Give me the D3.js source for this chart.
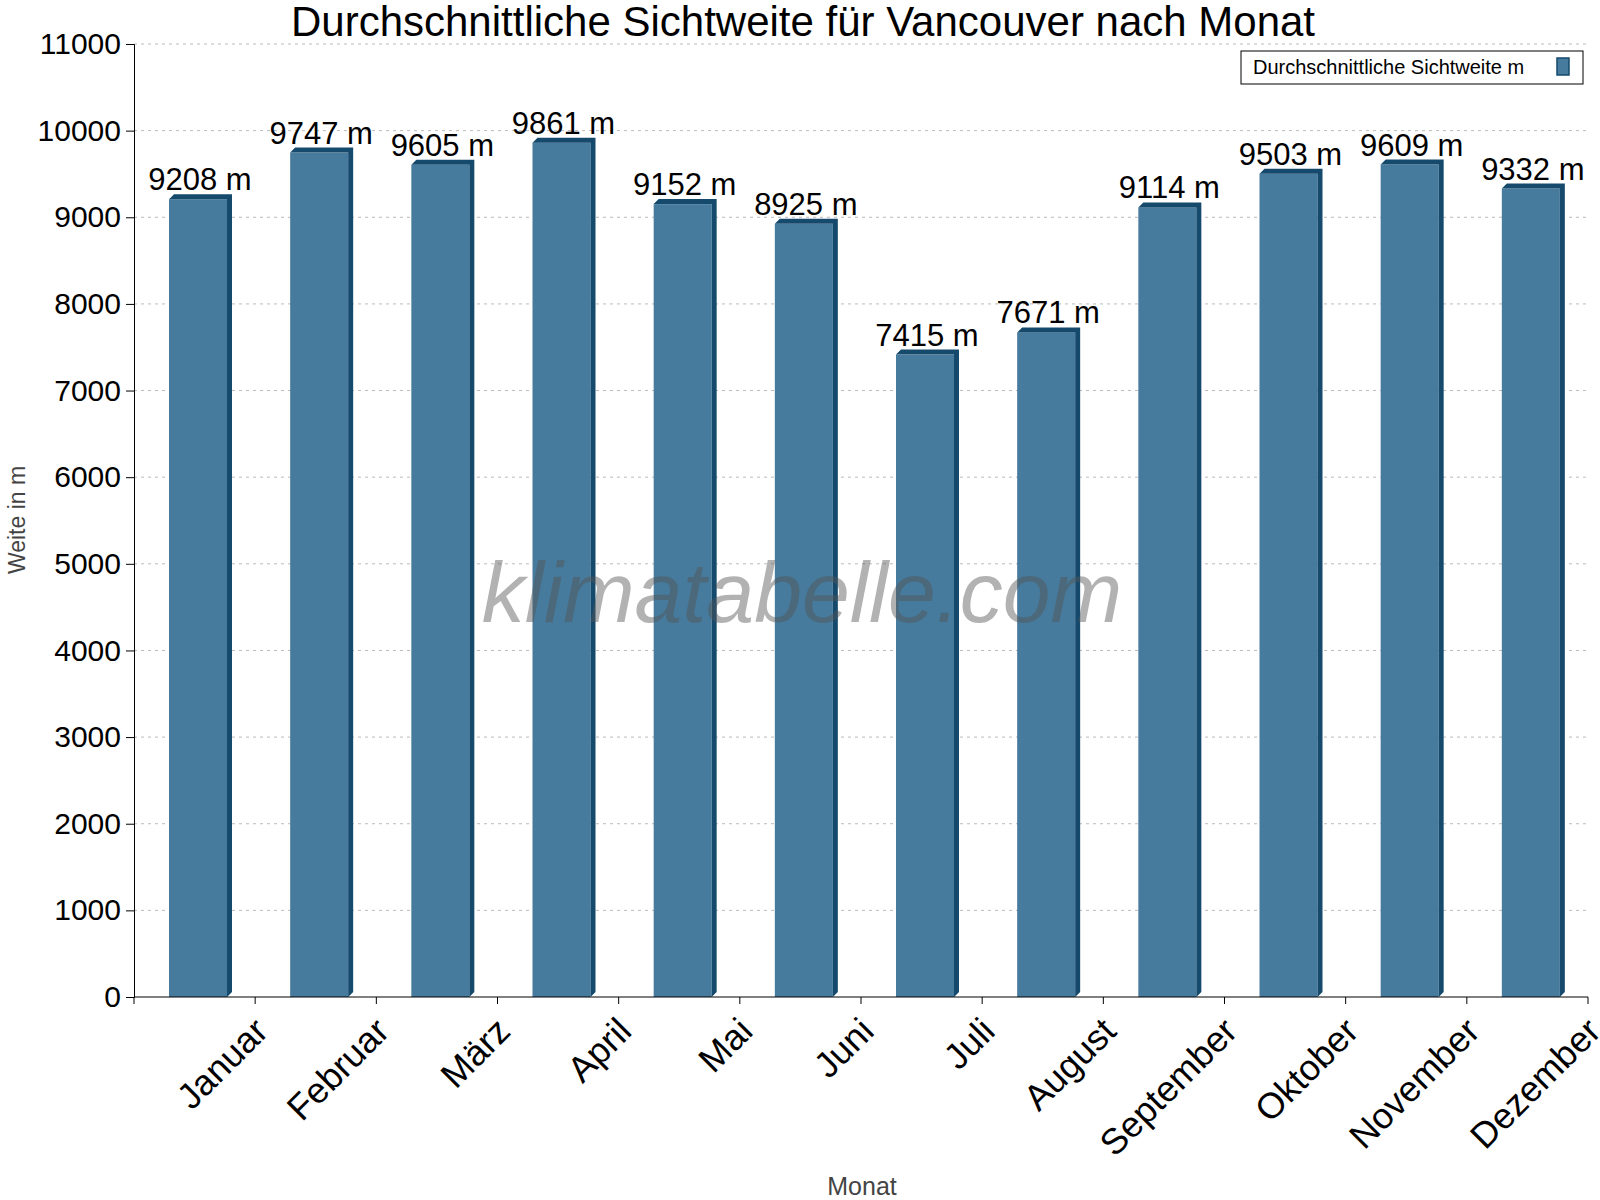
<!DOCTYPE html><html><head><meta charset="utf-8"><script src="https://cdn.jsdelivr.net/npm/d3@7"></script>
<style>body{margin:0;background:#fff}text{font-family:"Liberation Sans",Arial,sans-serif}</style></head><body><svg id="c" width="1600" height="1200"></svg>
<script>
const months=["Januar","Februar","März","April","Mai","Juni","Juli","August","September","Oktober","November","Dezember"];
const values=[9208,9747,9605,9861,9152,8925,7415,7671,9114,9503,9609,9332];
const yTicks=[0,1000,2000,3000,4000,5000,6000,7000,8000,9000,10000,11000];
const svg=d3.select("#c");
const L=134,R=1588,T=44,B=997;
const x=d3.scaleBand().domain(months).range([L,R]);
const y=d3.scaleLinear().domain([0,11000]).range([B,T]);
svg.append("g").selectAll("line").data(yTicks.slice(1)).join("line")
 .attr("x1",L).attr("x2",R).attr("y1",d=>y(d)).attr("y2",d=>y(d))
 .attr("stroke","#bbb").attr("stroke-dasharray","3,4");
const g=svg.append("g");
const fw=58,sw=5;
months.forEach((m,i)=>{
 const x0=x(m)+35, yt=y(values[i]);
 g.append("rect").attr("x",x0).attr("y",yt).attr("width",fw).attr("height",B-yt).attr("fill","#467b9d");
 g.append("path").attr("d",`M${x0},${yt} L${x0+sw},${yt-sw} L${x0+fw+sw},${yt-sw} L${x0+fw+sw},${B-sw} L${x0+fw},${B} L${x0+fw},${yt} Z`).attr("fill","#164a6d");
 g.append("text").attr("x",x0+fw/2+2).attr("y",yt-9).attr("text-anchor","middle").attr("font-size",31).attr("fill","#000").text(values[i]+" m");
});
svg.append("text").attr("x",802).attr("y",622).attr("text-anchor","middle")
 .attr("font-size",86).attr("font-style","italic").attr("fill","#555").attr("fill-opacity",0.45).text("klimatabelle.com");
const ya=svg.append("g").attr("transform",`translate(${L},0)`).call(d3.axisLeft(y).tickValues(yTicks).tickSize(8).tickFormat(d3.format("d")));
ya.selectAll("text").attr("font-size",30).attr("fill","#000").attr("dx",-2).attr("font-family","Liberation Sans, Arial");
ya.select(".domain").attr("stroke","#000");
svg.append("line").attr("x1",L).attr("x2",R).attr("y1",B).attr("y2",B).attr("stroke","#000");
svg.append("g").selectAll("line").data(d3.range(13)).join("line")
 .attr("x1",i=>L+i*x.bandwidth()).attr("x2",i=>L+i*x.bandwidth()).attr("y1",B).attr("y2",B+7).attr("stroke","#000");
svg.append("g").selectAll("text").data(months).join("text")
 .attr("transform",m=>`translate(${x(m)+x.bandwidth()/2+55},${B+16}) rotate(-45)`)
 .attr("text-anchor","end").attr("dy","0.8em").attr("font-size",36).attr("fill","#000").text(d=>d);
svg.append("text").attr("x",862).attr("y",1195).attr("text-anchor","middle").attr("font-size",25).attr("fill","#444").text("Monat");
svg.append("text").attr("transform","translate(25,520) rotate(-90)").attr("text-anchor","middle").attr("font-size",23).attr("fill","#444").text("Weite in m");
svg.append("text").attr("x",803).attr("y",36).attr("text-anchor","middle").attr("font-size",42).attr("fill","#000").text("Durchschnittliche Sichtweite für Vancouver nach Monat");
svg.append("rect").attr("x",1241).attr("y",51).attr("width",342).attr("height",33).attr("fill","#fff").attr("stroke","#000");
svg.append("text").attr("x",1253).attr("y",74).attr("font-size",20).attr("fill","#000").text("Durchschnittliche Sichtweite m");
svg.append("rect").attr("x",1557).attr("y",58).attr("width",12).attr("height",17).attr("fill","#467b9d").attr("stroke","#164a6d").attr("stroke-width",1.5);
</script></body></html>
